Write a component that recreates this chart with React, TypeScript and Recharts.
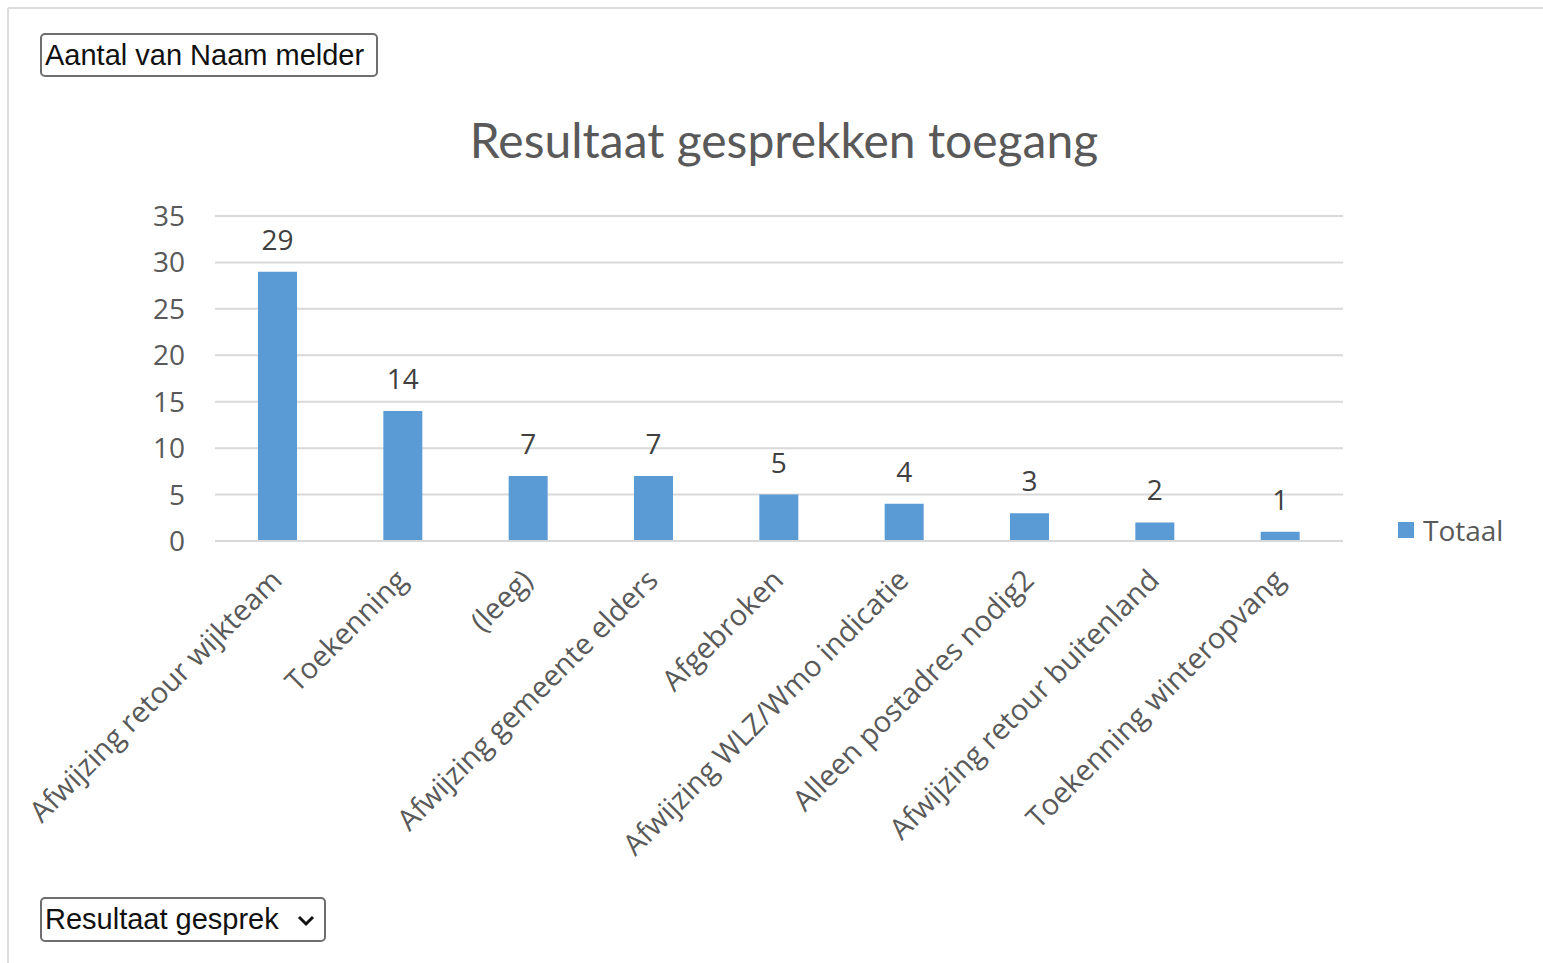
import { Bar, BarChart, CartesianGrid, LabelList, Legend, XAxis, YAxis } from 'recharts'

const categories = [
  'Afwijzing retour wijkteam',
  'Toekenning',
  '(leeg)',
  'Afwijzing gemeente elders',
  'Afgebroken',
  'Afwijzing WLZ/Wmo indicatie',
  'Alleen postadres nodig2',
  'Afwijzing retour buitenland',
  'Toekenning winteropvang',
]
const totals = [29, 14, 7, 7, 5, 4, 3, 2, 1]
const yTicks = [0, 5, 10, 15, 20, 25, 30, 35]

const BAR_COLOR = '#5b9bd5'
const TEXT_GRAY = '#595959'
const TICK_FONT = "'Open Sans', 'Noto Sans', sans-serif"

// chart rows built from the arrays above
const chartData = categories.map((name, i) => ({ name, Totaal: totals[i] }))

const CategoryTick = ({ x, y, payload }: any) => {
  const ax = x + 6
  const ay = y + 41
  return (
    <text
      x={ax}
      y={ay}
      transform={`rotate(-45, ${ax}, ${ay})`}
      textAnchor='end'
      fill={TEXT_GRAY}
      fontSize={29}
      fontFamily={TICK_FONT}
    >
      {payload.value}
    </text>
  )
}

const LegendBox = () => (
  <div style={{ display: 'flex', alignItems: 'center', fontFamily: TICK_FONT }}>
    <span style={{ width: 16, height: 16, background: BAR_COLOR, marginRight: 9 }} />
    <span style={{ fontSize: 28, color: TEXT_GRAY }}>Totaal</span>
  </div>
)

const boxStyle: React.CSSProperties = {
  position: 'absolute',
  border: '2px solid #6e6e6e',
  borderRadius: 5,
  background: '#fff',
  boxSizing: 'border-box',
  fontFamily: "'Liberation Sans', Arial, sans-serif",
  fontSize: 29,
  color: '#111',
  display: 'flex',
  alignItems: 'center',
  paddingLeft: 3,
}

export default function App() {
  return (
    <div
      style={{
        position: 'absolute',
        left: 0,
        top: 0,
        width: 1543,
        height: 963,
        background: '#fff',
        overflow: 'hidden',
      }}
    >
      {/* frame lines */}
      <div style={{ position: 'absolute', left: 8, top: 7, width: 1535, height: 2, background: '#dcdcdc' }} />
      <div style={{ position: 'absolute', left: 7, top: 8, width: 2, height: 955, background: '#dcdcdc' }} />

      <div style={{ ...boxStyle, left: 40, top: 33, width: 338, height: 44 }}>Aantal van Naam melder</div>

      <div
        style={{
          position: 'absolute',
          left: 0,
          width: 1568,
          top: 111,
          textAlign: 'center',
          fontFamily: "Lato, 'Open Sans', sans-serif",
          fontSize: 48,
          lineHeight: '58px',
          color: TEXT_GRAY,
        }}
      >
        Resultaat gesprekken toegang
      </div>

      <div style={{ position: 'absolute', left: 0, top: 0 }}>
        <BarChart
          width={1543}
          height={963}
          data={chartData}
          margin={{ top: 216, right: 200, left: 155, bottom: 122 }}
        >
          <CartesianGrid vertical={false} stroke='#d9d9d9' strokeWidth={2} />
          <XAxis
            dataKey='name'
            height={300}
            interval={0}
            tickLine={false}
            tickSize={0}
            tickMargin={0}
            axisLine={{ stroke: '#d9d9d9', strokeWidth: 2 }}
            tick={<CategoryTick />}
          />
          <YAxis
            width={60}
            domain={[0, 35]}
            ticks={yTicks}
            tickLine={false}
            axisLine={false}
            tickSize={0}
            tickMargin={30}
            tick={{ fill: TEXT_GRAY, fontSize: 28, fontFamily: TICK_FONT }}
          />
          <Legend
            layout='vertical'
            verticalAlign='middle'
            align='center'
            wrapperStyle={{ left: 1398, top: 511, width: 140 }}
            content={<LegendBox />}
          />
          <Bar dataKey='Totaal' fill={BAR_COLOR} barSize={39} isAnimationActive={false}>
            <LabelList
              dataKey='Totaal'
              position='top'
              offset={22}
              fill='#404040'
              fontSize={28}
              fontFamily={TICK_FONT}
            />
          </Bar>
        </BarChart>
      </div>

      <div style={{ ...boxStyle, left: 40, top: 897, width: 286, height: 45 }}>
        Resultaat gesprek
        <svg width={18} height={12} style={{ position: 'absolute', right: 9, top: 16 }}>
          <path d='M2 2 L9 9 L16 2' fill='none' stroke='#111' strokeWidth={3} />
        </svg>
      </div>
    </div>
  )
}
